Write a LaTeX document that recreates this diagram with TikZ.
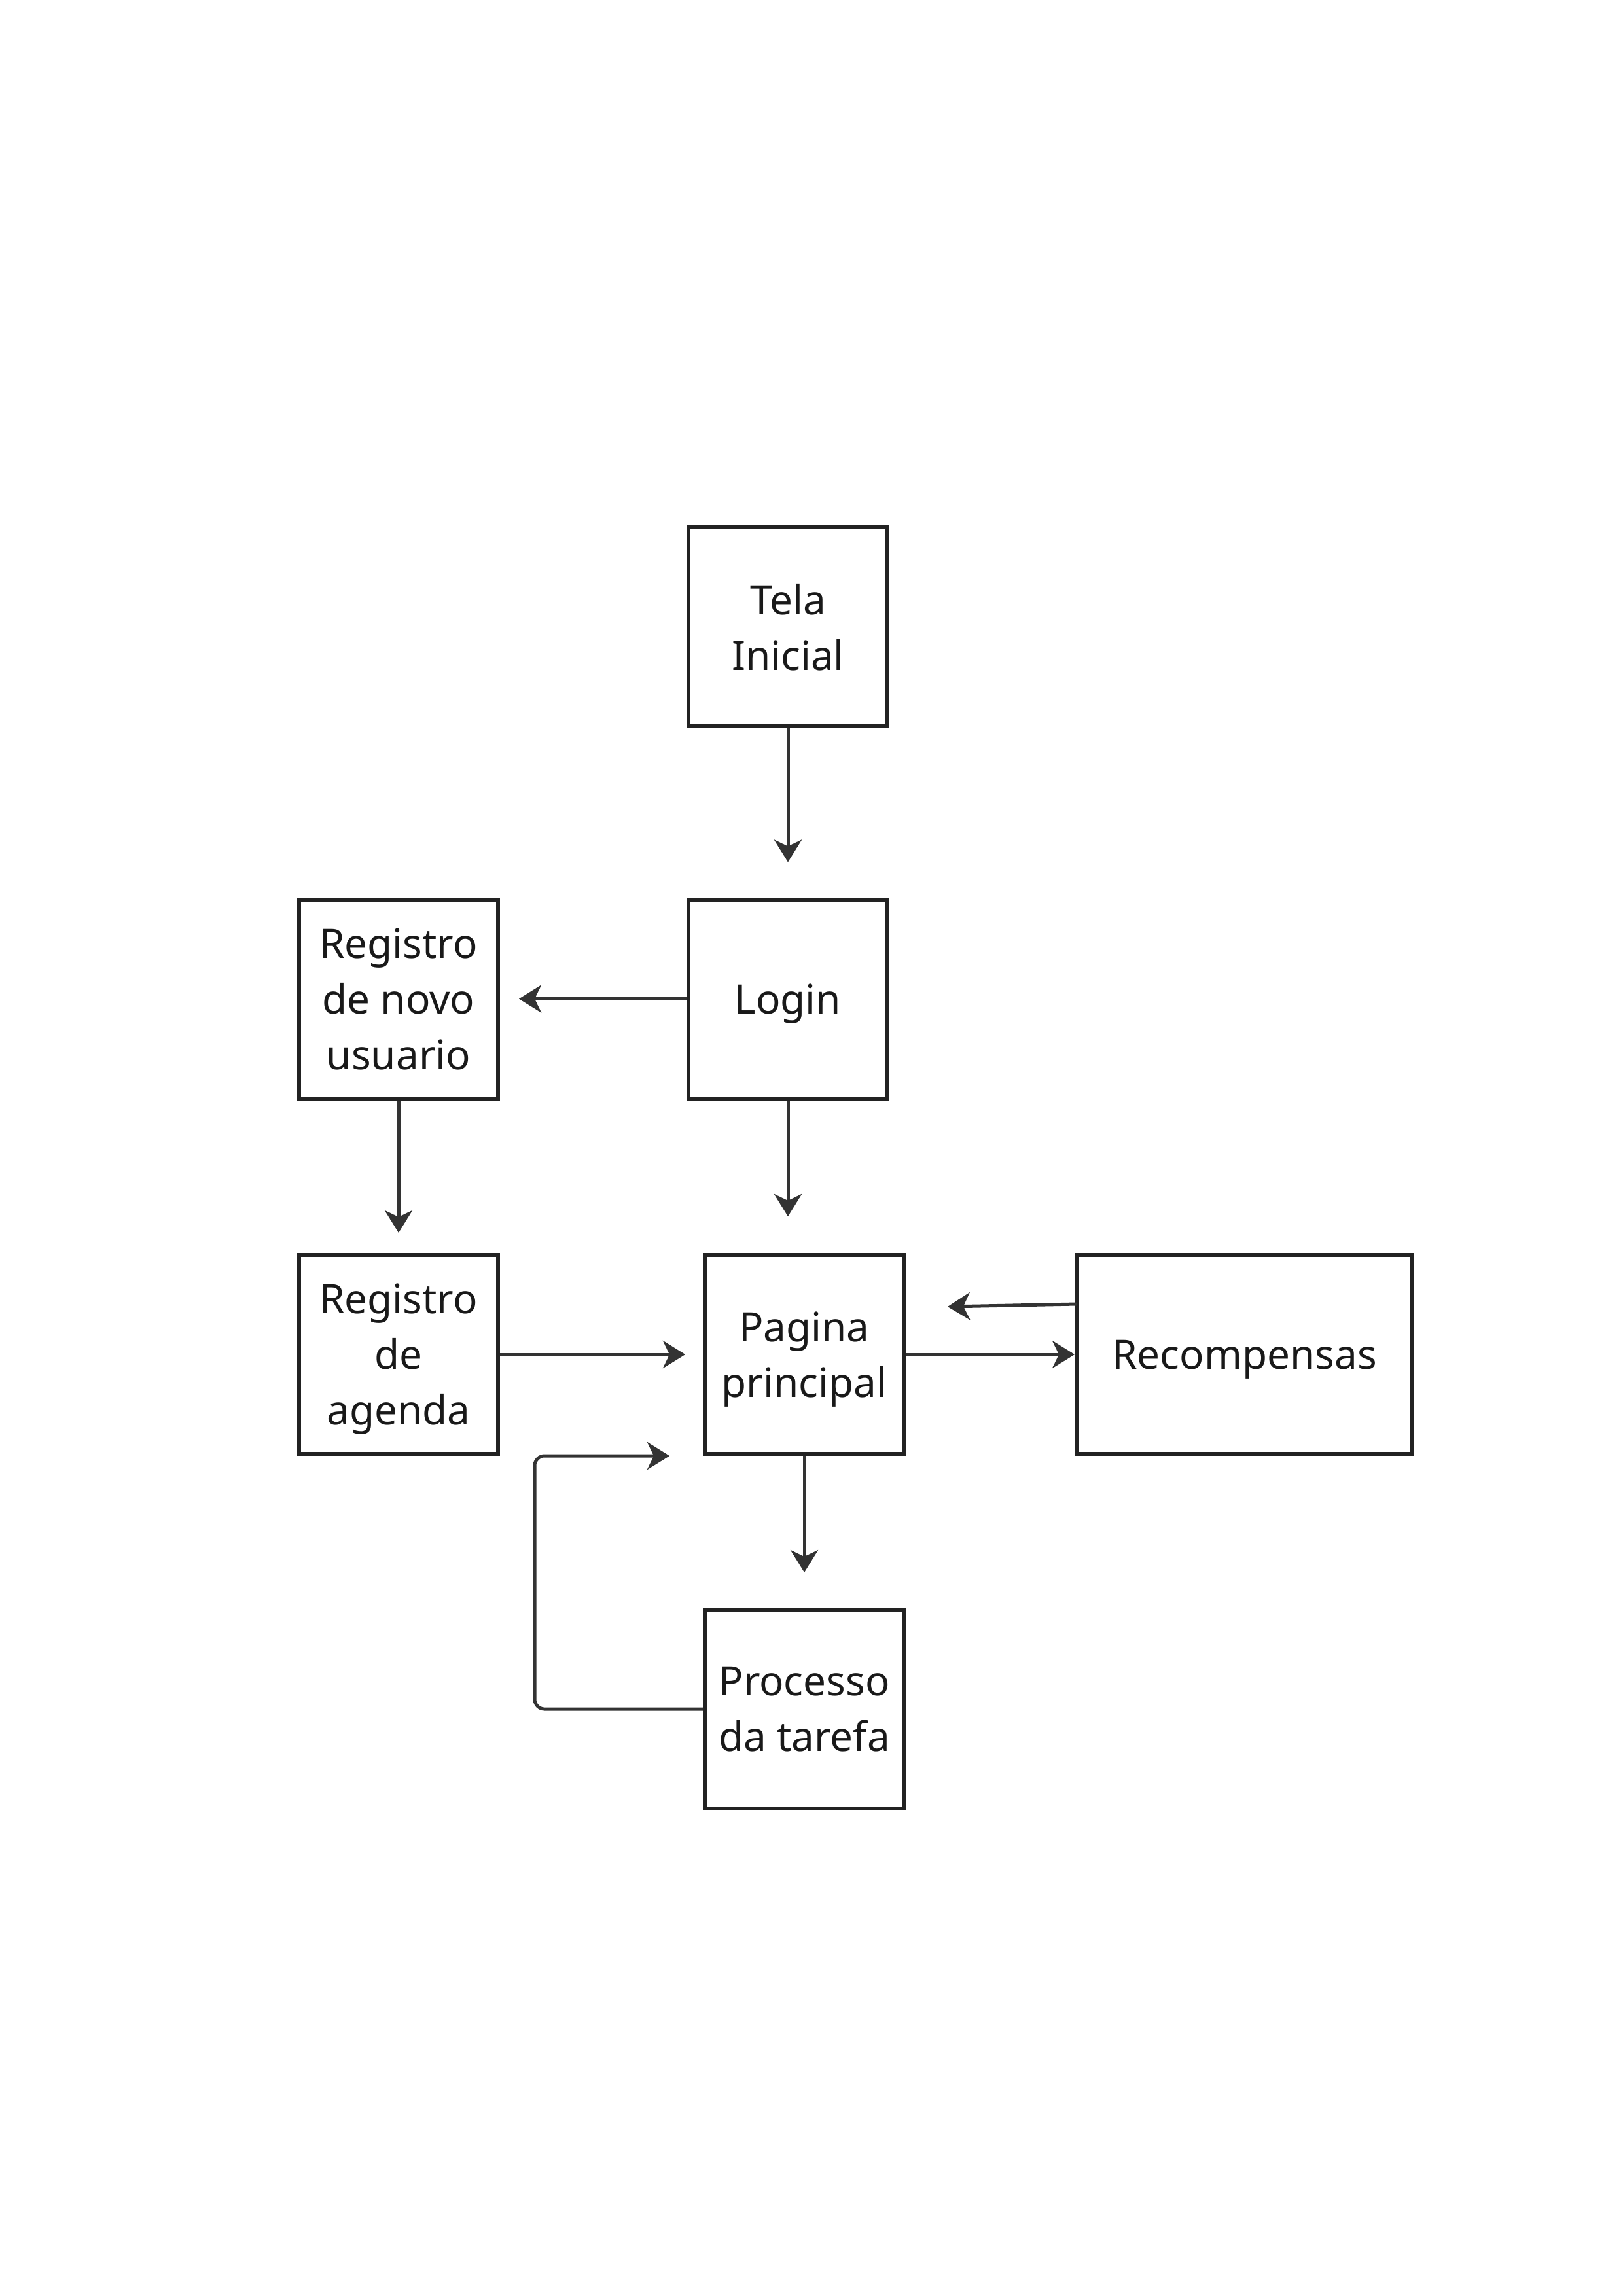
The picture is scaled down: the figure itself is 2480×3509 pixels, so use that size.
\documentclass[tikz,border=0pt]{standalone}
\usepackage{fontspec}
\setmainfont{Noto Sans}
\usetikzlibrary{arrows.meta}
\definecolor{linec}{HTML}{333333}
\definecolor{boxc}{HTML}{222222}
\tikzset{
  box/.style={draw=boxc, line width=6pt, minimum width=304pt, minimum height=304pt,
    inner sep=0pt, align=center, font=\fontsize{62pt}{85pt}\selectfont, text=black!90,
    text depth=0pt},
  arr/.style={draw=linec, line width=5pt, -{Stealth[length=34pt,width=42pt,inset=10pt]}},
}
\begin{document}
\begin{tikzpicture}[x=1pt,y=-1pt]
\useasboundingbox (0,0) rectangle (2480,3509);
\fill[white] (0,0) rectangle (2480,3509);

\node[box] (tela) at (1204,958) {Tela\\Inicial};
\node[box] (login) at (1204,1526.5) {Login};
\node[box] (novo) at (609,1526.5) {Registro\\de novo\\usuario};
\node[box] (agenda) at (609,2070) {Registro\\de\\agenda};
\node[box] (pagina) at (1229,2070) {Pagina\\principal};
\node[box, minimum width=513pt] (recomp) at (1901.5,2070) {Recompensas};
\node[box] (proc) at (1229,2612) {Processo\\da tarefa};

\draw[arr, shorten >=54pt] (tela.south) -- (login.north);
\draw[arr, shorten >=29pt] (login.west) -- (novo.east);
\draw[arr, shorten >=31pt] (novo.south) -- (agenda.north);
\draw[arr, shorten >=56pt] (login.south) -- (login.south |- pagina.north);
\draw[arr, shorten >=27pt, line width=4.5pt] (agenda.east) -- (pagina.west);
\draw[arr, line width=4.5pt] (pagina.east) -- (recomp.west);

\coordinate (rs) at (1645,1993);
\coordinate (re) at (1448,1997);
\draw[arr] (rs) -- (re);

\draw[arr, shorten >=54pt, line width=4pt] (pagina.south) -- (proc.north);

\coordinate (l2) at (817,2225);
\coordinate (l3) at (1023,2225);
\draw[arr, rounded corners=15pt] (proc.west) -- (proc.west -| l2) -- (l2) -- (l3);
\end{tikzpicture}
\end{document}
